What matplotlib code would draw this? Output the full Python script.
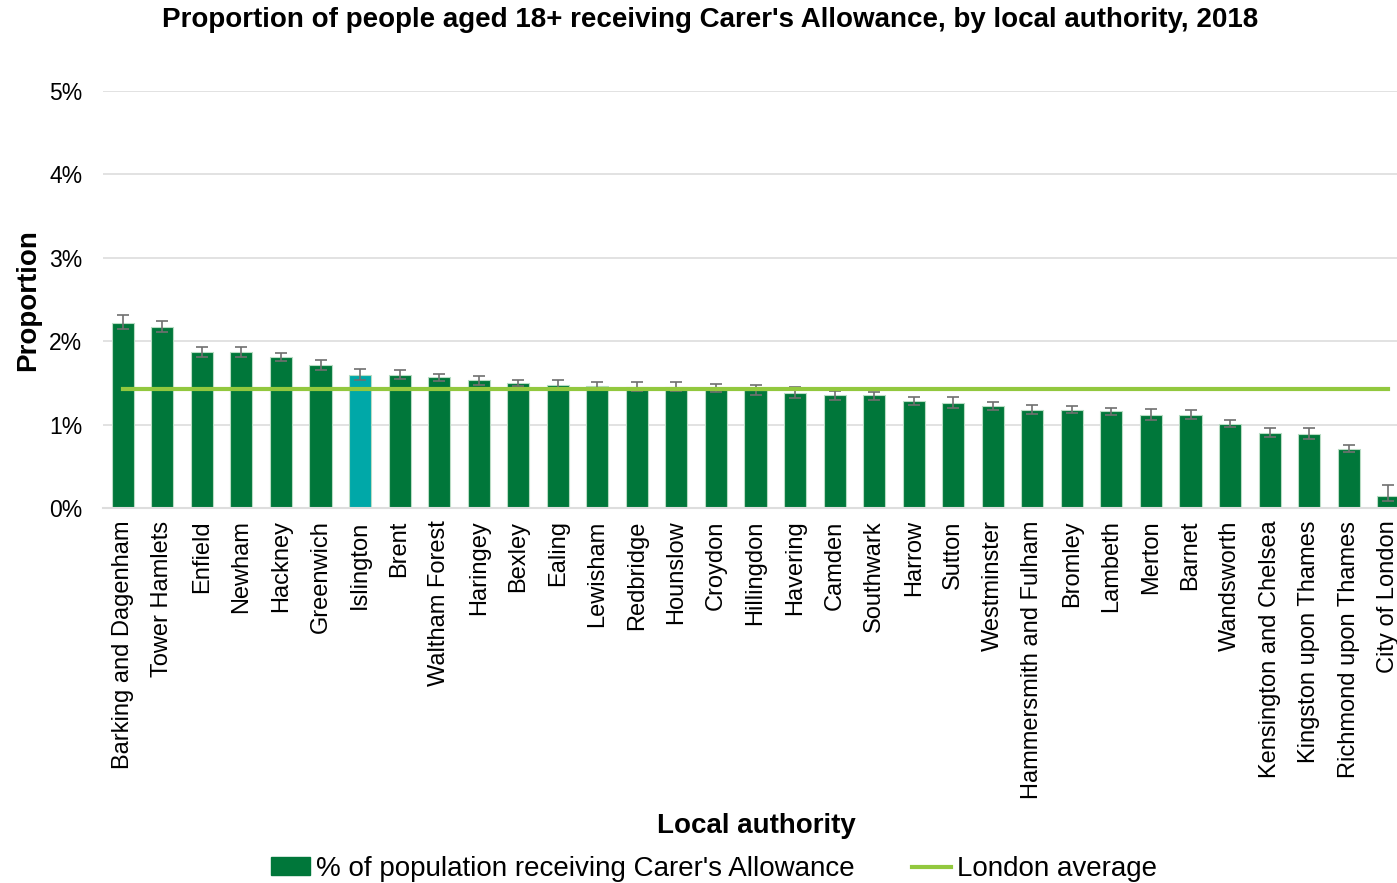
import numpy as np
import matplotlib.pyplot as plt
from matplotlib.patches import Patch
from matplotlib.lines import Line2D

plt.rcParams['font.family'] = ['Liberation Sans', 'DejaVu Sans']

# local authorities, sorted as in the source chart
boroughs = ['Barking and Dagenham', 'Tower Hamlets', 'Enfield', 'Newham', 'Hackney',
            'Greenwich', 'Islington', 'Brent', 'Waltham Forest', 'Haringey', 'Bexley',
            'Ealing', 'Lewisham', 'Redbridge', 'Hounslow', 'Croydon', 'Hillingdon',
            'Havering', 'Camden', 'Southwark', 'Harrow', 'Sutton', 'Westminster',
            'Hammersmith and Fulham', 'Bromley', 'Lambeth', 'Merton', 'Barnet',
            'Wandsworth', 'Kensington and Chelsea', 'Kingston upon Thames',
            'Richmond upon Thames', 'City of London']

# % of people aged 18+ receiving Carer's Allowance
pct = [2.22, 2.17, 1.87, 1.87, 1.81, 1.71, 1.60, 1.60, 1.57, 1.53, 1.50,
       1.48, 1.46, 1.45, 1.45, 1.44, 1.41, 1.38, 1.35, 1.35, 1.28, 1.26,
       1.22, 1.18, 1.18, 1.16, 1.12, 1.12, 1.01, 0.90, 0.89, 0.71, 0.14]

# error bar half widths (lower, upper)
err_lo = [0.07, 0.06, 0.06, 0.06, 0.05, 0.06, 0.06, 0.05, 0.05, 0.05, 0.04,
          0.04, 0.05, 0.05, 0.05, 0.05, 0.05, 0.06, 0.05, 0.05, 0.05, 0.06,
          0.05, 0.05, 0.04, 0.04, 0.06, 0.05, 0.04, 0.05, 0.06, 0.04, 0.06]
err_hi = [0.09, 0.07, 0.06, 0.06, 0.05, 0.07, 0.07, 0.05, 0.04, 0.05, 0.04,
          0.05, 0.05, 0.06, 0.06, 0.05, 0.06, 0.07, 0.05, 0.04, 0.05, 0.07,
          0.05, 0.06, 0.04, 0.04, 0.07, 0.05, 0.05, 0.06, 0.07, 0.04, 0.14]

london_avg = 1.43
highlight = 'Islington'

green = '#00773A'
teal = '#00A8A8'
lime = '#92C83E'

fig = plt.figure(figsize=(13.97, 8.83), dpi=100)
ax = fig.add_axes([103 / 1397, 375 / 883, 1305 / 1397, 417 / 883])

x = np.arange(len(boroughs))
colors = [teal if b == highlight else green for b in boroughs]
ax.bar(x, pct, width=0.56, color=colors, edgecolor='#b9dcc4', linewidth=0.8, zorder=2)
ax.errorbar(x, pct, yerr=[err_lo, err_hi], fmt='none', ecolor='#707070',
            elinewidth=1.2, capsize=4, capthick=1.2, zorder=3)
ax.plot(x, [london_avg] * len(x), color=lime, linewidth=3, zorder=4)

ax.set_xlim(-0.5, len(boroughs) - 0.5)
ax.set_ylim(0, 5)
ax.set_yticks(range(6))
ax.set_yticklabels([f'{v}%' for v in range(6)])
ax.set_xticks(x)
ax.set_xticklabels(boroughs, rotation=90, fontsize=17)
ax.tick_params(axis='y', labelsize=16.5, length=0, pad=15)
ax.tick_params(axis='x', length=0, pad=9)
ax.grid(axis='y', color='#dddddd', linewidth=1.2, zorder=0)
for s in ['top', 'right', 'left']:
    ax.spines[s].set_visible(False)
ax.spines['bottom'].set_color('#dddddd')
ax.spines['bottom'].set_linewidth(1.5)

fig.text(28 / 1397, 1 - 300 / 883, 'Proportion', fontsize=20, fontweight='bold',
         rotation=90, ha='center', va='center')
fig.text(756 / 1397, 1 - 826 / 883, 'Local authority', fontsize=20, fontweight='bold',
         ha='center', va='center')
fig.text(710 / 1397, 1 - 20 / 883,
         "Proportion of people aged 18+ receiving Carer's Allowance, by local authority, 2018",
         fontsize=20, fontweight='bold', ha='center', va='center')

handles = [Patch(facecolor=green, edgecolor=green),
           Line2D([0], [0], color=lime, linewidth=3)]
fig.legend(handles, ["% of population receiving Carer's Allowance", 'London average'],
           loc='center', bbox_to_anchor=(714 / 1397, 1 - 869 / 883), ncol=2,
           frameon=False, fontsize=20, handlelength=1.4, handletextpad=0.2,
           columnspacing=2.1, handleheight=0.6)

fig.savefig('out.png', dpi=100)
